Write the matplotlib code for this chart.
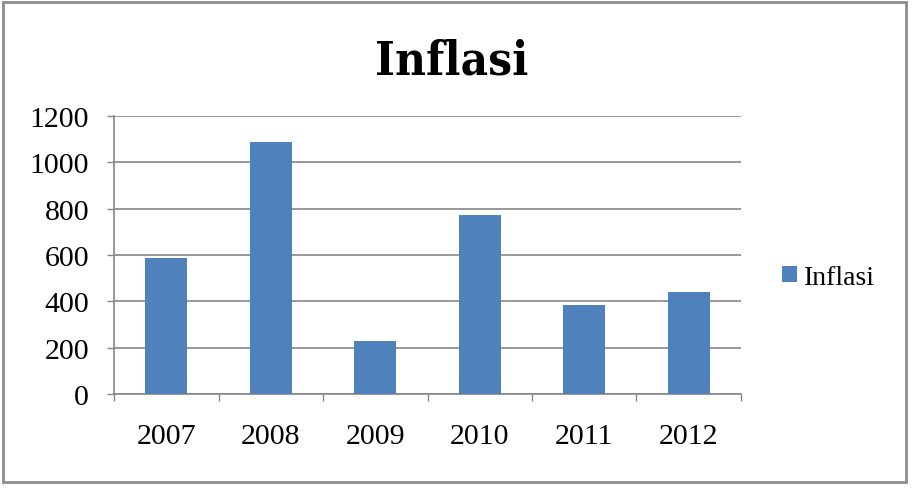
import matplotlib.pyplot as plt
from matplotlib.patches import Rectangle

years = ["2007", "2008", "2009", "2010", "2011", "2012"]
inflasi = [585, 1086, 228, 773, 383, 442]
y_ticks = [0, 200, 400, 600, 800, 1000, 1200]

bar_color = "#4F81BD"
grid_color = "#868686"

plt.rcParams["font.family"] = ["Liberation Serif", "DejaVu Serif"]

fig = plt.figure(figsize=(9.13, 4.89), dpi=100)
ax = fig.add_axes([0.1249, 0.1922, 0.6867, 0.5685])

x = range(len(years))
ax.bar(x, inflasi, width=0.4, color=bar_color, label="Inflasi", zorder=3)

ax.set_xlim(-0.5, len(years) - 0.5)
ax.set_ylim(0, 1200)
ax.set_yticks(y_ticks)
ax.set_yticklabels([str(v) for v in y_ticks], fontsize=21.5)
ax.set_xticks(list(x))
ax.set_xticklabels(years, fontsize=21.5)
ax.set_xticks([i - 0.5 for i in range(len(years) + 1)], minor=True)

ax.tick_params(axis="x", which="major", length=0, pad=21)
ax.tick_params(axis="x", which="minor", length=5, color=grid_color, width=1)
ax.tick_params(axis="y", length=5, color=grid_color, width=1, pad=13)

ax.grid(axis="y", color=grid_color, linewidth=1.2, zorder=0)
for s in ["top", "right"]:
    ax.spines[s].set_visible(False)
for s in ["left", "bottom"]:
    ax.spines[s].set_color(grid_color)
    ax.spines[s].set_linewidth(1.2)

leg = ax.legend(loc="center left", bbox_to_anchor=(1.025, 0.42), frameon=False,
                fontsize=20, handlelength=0.55, handleheight=0.55,
                handletextpad=0.25)

fig.text(0.495, 0.847, "Inflasi", ha="center", va="baseline", fontsize=34,
         fontweight="bold", fontstretch="condensed",
         family=["DejaVu Serif", "Liberation Serif"])

fig.patches.append(Rectangle((3 / 913, 1 - 483 / 489), 903 / 913, 480 / 489,
                             transform=fig.transFigure, fill=False,
                             edgecolor="#8C8C8C", linewidth=2))

fig.savefig("out.png", dpi=100)
